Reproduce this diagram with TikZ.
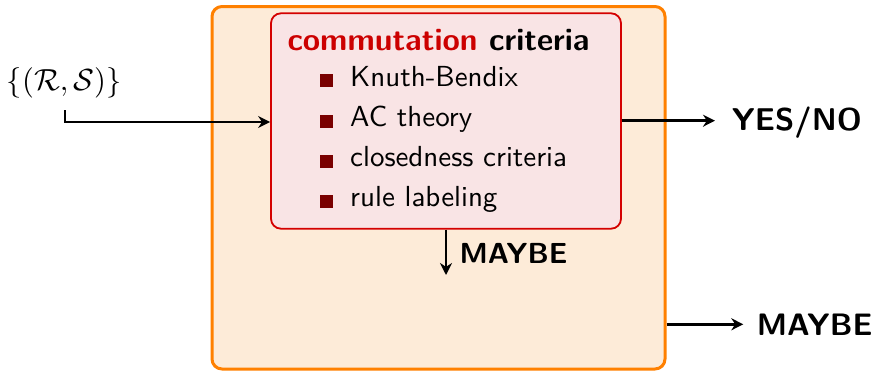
\documentclass[tikz,border=0pt]{standalone}
\usepackage{fontspec}
\usepackage{graphicx}
\usetikzlibrary{arrows.meta}
\definecolor{outerfill}{HTML}{FDEBD8}
\definecolor{outerdraw}{HTML}{FF8000}
\definecolor{innerfill}{HTML}{F9E4E5}
\definecolor{innerdraw}{HTML}{D40000}
\definecolor{titlered}{HTML}{CC0000}
\definecolor{bulletred}{HTML}{7A0000}
\newcommand{\itm}[1]{\scalebox{2.9}{\sffamily\fontsize{10}{12}\selectfont #1}}
\tikzset{
  outerbox/.style={draw=outerdraw, fill=outerfill, line width=3pt, rounded corners=10pt, inner sep=0pt},
  innerbox/.style={draw=innerdraw, fill=innerfill, line width=1.8pt, rounded corners=10pt, inner sep=0pt},
  itemtext/.style={anchor=base west, inner sep=0pt},
  bulletsq/.style={fill=bulletred, minimum size=12.5pt, inner sep=0pt, anchor=south west},
  bigbold/.style={anchor=base west, inner sep=0pt, font=\sffamily\bfseries\fontsize{31.5}{36}\selectfont},
  conn/.style={line width=2.8pt, -{Stealth[length=12pt,width=12pt]}},
}
\begin{document}
\begin{tikzpicture}[x=1pt,y=-1pt]
\useasboundingbox (0,0) rectangle (876,372);
\node[outerbox, minimum width=453pt, minimum height=362.5pt] (outer) at (438.5,187.75) {};
\node[innerbox, minimum width=350pt, minimum height=215.4pt] (crit) at (446,121) {};
\node[bigbold] (title) at (287.3,50.7) {\textcolor{titlered}{commutation} criteria};
\node[bulletsq] (b1) at (320,87) {};
\node[bulletsq] (b2) at (320,127.7) {};
\node[bulletsq] (b3) at (320,167.7) {};
\node[bulletsq] (b4) at (320,207.7) {};
\node[itemtext] (i1) at (350,86) {\itm{Knuth-Bendix}};
\node[itemtext] (i2) at (350,126.7) {\itm{AC theory}};
\node[itemtext] (i3) at (350,166.7) {\itm{closedness criteria}};
\node[itemtext] (i4) at (350,206.7) {\itm{rule labeling}};
\node[anchor=base west, inner sep=0pt] (in) at (6.7,90) {\scalebox{3.05}{$\{(\mathcal{R},\mathcal{S})\}$}};
\coordinate (inS) at (65,110);
\coordinate (inC) at (65,122);
\draw[conn] (inS) -- (inC) -- (crit.west |- inC);
\node[bigbold] (yes) at (731.7,130) {YES/NO};
\coordinate (yesend) at (715,120.7);
\draw[conn] (crit.east |- yesend) -- (yesend);
\node[anchor=base west, inner sep=0pt, font=\sffamily\bfseries\fontsize{29}{34}\selectfont] (m1) at (459.3,263.3) {MAYBE};
\coordinate (m1end) at (446,275);
\draw[conn] (crit.south -| m1end) -- (m1end);
\node[anchor=base west, inner sep=0pt, font=\sffamily\bfseries\fontsize{31}{36}\selectfont] (m2) at (756.7,335) {MAYBE};
\coordinate (m2end) at (743.3,324.3);
\draw[conn] (outer.east |- m2end) -- (m2end);
\end{tikzpicture}
\end{document}
